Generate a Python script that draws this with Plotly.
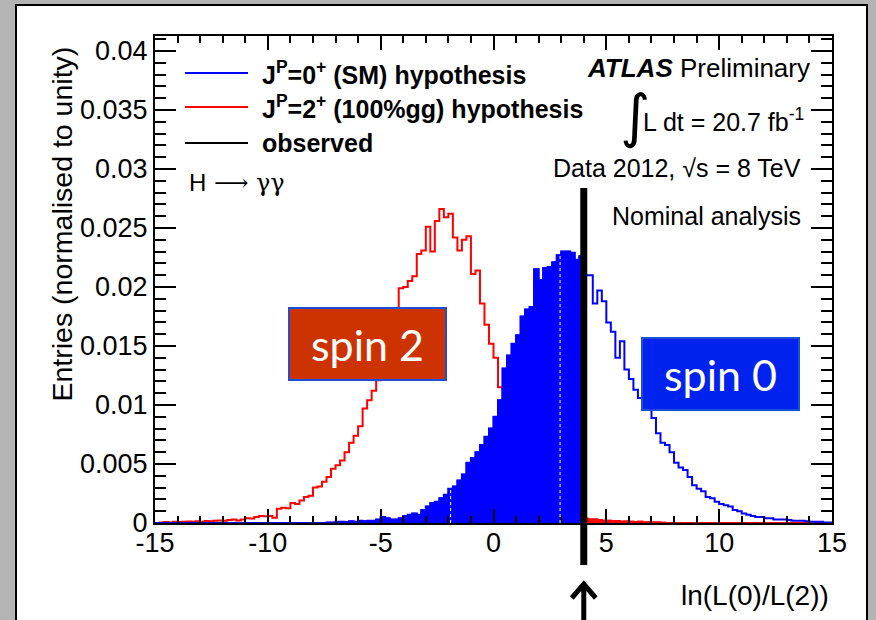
import numpy as np
import plotly.graph_objects as go

# ---------------------------------------------------------------- data
x_min, x_max, bin_width = -15.0, 15.0, 0.2

# J^P = 0+ (SM) pseudo-experiment distribution, normalised to unity
spin0_sm = [
    0, 0, 0, 0, 0, 0, 0, 0, 0, 0,                                          # -15.0 .. -13.2
    0, 0, 0, 0, 0, 0, 0, 0, 0, 0,                                          # -13.0 .. -11.2
    0, 0, 0, 0, 0, 0, 0, 0, 0, 0,                                          # -11.0 .. -9.2
    0, 0, 0, 0, 0, 0, 0, 0, 0.00005, 0.00005,                              # -9.0 .. -7.2
    0.0001, 0.0001, 0.00008, 0.00015, 0.0001, 0.0002, 0.00015, 0.0002, 0.0002, 0.0003,   # -7.0 .. -5.2
    0.0005, 0.0004, 0.0003, 0.0003, 0.0004, 0.0006, 0.0007, 0.0008, 0.0007, 0.0011,      # -5.0 .. -3.2
    0.0014, 0.0017, 0.0018, 0.0021, 0.0024, 0.0029, 0.0031, 0.0036, 0.0041, 0.0051,      # -3.0 .. -1.2
    0.0055, 0.0060, 0.0066, 0.0073, 0.0080, 0.0090, 0.0104, 0.0131, 0.0142, 0.0152,      # -1.0 .. 0.8
    0.0159, 0.0175, 0.0181, 0.0183, 0.0215, 0.0206, 0.0216, 0.0217, 0.0221, 0.0227,      # 1.0 .. 2.8
    0.0230, 0.0230, 0.0229, 0.0223, 0.0226, 0.0210, 0.0210, 0.0186, 0.0197, 0.0188,      # 3.0 .. 4.8
    0.0170, 0.0162, 0.0140, 0.0154, 0.0130, 0.0122, 0.0113, 0.0106, 0.0102, 0.0097,      # 5.0 .. 6.8
    0.0089, 0.0076, 0.0068, 0.0066, 0.0060, 0.0051, 0.0047, 0.0045, 0.0039, 0.0032,      # 7.0 .. 8.8
    0.0029, 0.0027, 0.0022, 0.0021, 0.0018, 0.0016, 0.0015, 0.0014, 0.0011, 0.0010,      # 9.0 .. 10.8
    0.0008, 0.0007, 0.0006, 0.0005, 0.0005, 0.0004, 0.0004, 0.0003, 0.0003, 0.0003,      # 11.0 .. 12.8
    0.00025, 0.0002, 0.0002, 0.0002, 0.00015, 0.0001, 0.0001, 0.0001, 0.00005, 0.00005,  # 13.0 .. 14.8
]

# J^P = 2+ (100% gg) pseudo-experiment distribution, normalised to unity
spin2_gg = [
    0.0, 0.00005, 0.00008, 0.00005, 0.0001, 0.00008, 0.0001, 0.00012, 0.0001, 0.00015,  # -15.0 .. -13.2
    0.0001, 0.00018, 0.00015, 0.0002, 0.00022, 0.0002, 0.00025, 0.0003, 0.00022, 0.0003, # -13.0 .. -11.2
    0.0004, 0.00038, 0.0005, 0.0006, 0.00058, 0.0006, 0.00045, 0.0012, 0.0013, 0.00125,  # -11.0 .. -9.2
    0.0017, 0.0016, 0.0019, 0.0022, 0.0023, 0.0030, 0.0031, 0.0035, 0.0039, 0.0046,      # -9.0 .. -7.2
    0.0049, 0.0053, 0.0060, 0.0068, 0.0074, 0.0082, 0.0097, 0.0104, 0.0112, 0.0121,      # -7.0 .. -5.2
    0.0130, 0.0141, 0.0152, 0.0168, 0.0199, 0.0200, 0.0205, 0.0209, 0.0228, 0.0231,      # -5.0 .. -3.2
    0.0251, 0.0230, 0.0256, 0.0266, 0.0259, 0.0262, 0.0242, 0.0231, 0.0240, 0.0243,      # -3.0 .. -1.2
    0.0211, 0.0214, 0.0186, 0.0168, 0.0152, 0.0140, 0.0115, 0.0105, 0.0092, 0.0080,      # -1.0 .. 0.8
    0.0068, 0.0058, 0.0048, 0.0040, 0.0032, 0.0026, 0.0021, 0.0016, 0.0013, 0.0010,      # 1.0 .. 2.8
    0.0008, 0.0006, 0.0005, 0.0004, 0.0004, 0.00035, 0.0003, 0.0003, 0.00025, 0.0002,    # 3.0 .. 4.8
    0.0002, 0.00015, 0.00018, 0.0001, 0.00012, 0.0001, 0.00008, 0.0001, 0.00005, 0.00006, # 5.0 .. 6.8
    0.00004, 0.00005, 0.00003, 0, 0, 0, 0, 0, 0, 0,                                      # 7.0 .. 8.8
    0, 0, 0, 0, 0, 0, 0, 0, 0, 0,                                                        # 9.0 .. 10.8
    0, 0, 0, 0, 0, 0, 0, 0, 0, 0,                                                        # 11.0 .. 12.8
    0, 0, 0, 0, 0, 0, 0, 0, 0, 0,                                                        # 13.0 .. 14.8
]

observed = 4.0                 # observed value of ln(L(0)/L(2))
median_marks = [-1.9, 2.95]    # dotted markers inside the SM distribution

x_tick_vals = [-15, -10, -5, 0, 5, 10, 15]
x_tick_text = ["-15", "-10", "-5", "0", "5", "10", "15"]
y_tick_vals = [0, 0.005, 0.01, 0.015, 0.02, 0.025, 0.03, 0.035, 0.04]
y_tick_text = ["0", "0.005", "0.01", "0.015", "0.02", "0.025", "0.03", "0.035", "0.04"]
y_max = 0.04127

# ---------------------------------------------------------------- geometry helpers
W, H = 876, 620
ML, MR, MT, MB = 155, 44, 36, 97
PW, PH = W - ML - MR, H - MT - MB


def px(p):
    return (p - ML) / PW


def py(q):
    return (MT + PH - q) / PH


n_bins = int(round((x_max - x_min) / bin_width))
edges = np.round(x_min + bin_width * np.arange(n_bins + 1), 6)
assert len(spin0_sm) == n_bins and len(spin2_gg) == n_bins


def step(vals, lo=None, hi=None):
    """Histogram outline as hv-step points, optionally restricted to [lo, hi]."""
    v = list(vals)
    xs = list(edges)
    ys = v + [v[-1]]
    if lo is None and hi is None:
        return xs, ys
    lo = x_min if lo is None else lo
    hi = x_max if hi is None else hi
    ox, oy = [], []
    for k in range(n_bins):
        a, b = edges[k], edges[k + 1]
        if b <= lo or a >= hi:
            continue
        ox.append(max(a, lo))
        oy.append(v[k])
    ox.append(hi)
    oy.append(oy[-1])
    return ox, oy


BLUE = "#0000ff"
RED = "#ff0000"
FONT = "Liberation Sans"

fig = go.Figure()

# spin-2 outline
rx, ry = step(spin2_gg)
fig.add_trace(go.Scatter(x=rx, y=ry, mode="lines", line=dict(color=RED, width=2, shape="hv"),
                         hoverinfo="skip", showlegend=False))
# SM filled below the observed value
bx, by = step(spin0_sm, hi=observed)
fig.add_trace(go.Scatter(x=bx, y=by, mode="lines", line=dict(color=BLUE, width=1.5, shape="hv"),
                         fill="tozeroy", fillcolor=BLUE, hoverinfo="skip", showlegend=False))
# spin-2 filled above the observed value
rfx, rfy = step(spin2_gg, lo=observed)
fig.add_trace(go.Scatter(x=rfx, y=rfy, mode="lines", line=dict(color=RED, width=2, shape="hv"),
                         fill="tozeroy", fillcolor=RED, hoverinfo="skip", showlegend=False))
# SM outline
sx, sy = step(spin0_sm)
fig.add_trace(go.Scatter(x=sx, y=sy, mode="lines", line=dict(color=BLUE, width=2, shape="hv"),
                         hoverinfo="skip", showlegend=False))

shapes = []
# page panel
shapes.append(dict(type="rect", xref="paper", yref="paper", layer="below",
                   x0=px(16), x1=px(867), y0=py(5), y1=py(640),
                   fillcolor="white", line=dict(color="black", width=2)))

# dotted markers inside the filled SM histogram
for m in median_marks:
    k = int((m - x_min) // bin_width)
    shapes.append(dict(type="line", xref="x", yref="y", x0=m, x1=m, y0=0, y1=spin0_sm[k],
                       line=dict(color="white", width=1, dash="dot"), layer="above"))

# observed value
shapes.append(dict(type="line", xref="x", yref="paper", x0=observed, x1=observed,
                   y0=py(565), y1=py(188), line=dict(color="black", width=7)))
# arrow under the axis pointing to the observed value
dx = 12 / PW * (x_max - x_min)
shapes.append(dict(type="path", xref="x", yref="paper",
                   path=(f"M {observed - dx},{py(598)} L {observed},{py(584)} L {observed + dx},{py(598)} "
                         f"M {observed},{py(585)} L {observed},{py(630)}"),
                   line=dict(color="black", width=5)))

# legend
legend_rows = [
    (73, BLUE, "<b>J<sup>P</sup>=0<sup>+</sup> (SM) hypothesis</b>"),
    (107, RED, "<b>J<sup>P</sup>=2<sup>+</sup> (100%gg) hypothesis</b>"),
    (143, "black", "<b>observed</b>"),
]
annotations = []
for yy, col, txt in legend_rows:
    shapes.append(dict(type="line", xref="paper", yref="paper", x0=px(185), x1=px(248),
                       y0=py(yy), y1=py(yy), line=dict(color=col, width=2)))
    annotations.append(dict(xref="paper", yref="paper", x=px(260), y=py(yy), xanchor="left",
                            yanchor="middle", showarrow=False, text=txt,
                            font=dict(family=FONT, size=25, color="black")))

# labelled boxes
boxes = [
    (289, 446, 308, 380, "#cc3300", "spin 2"),
    (642, 799, 338, 410, "#0022ee", "spin 0"),
]
for x0, x1, y0, y1, col, txt in boxes:
    shapes.append(dict(type="rect", xref="paper", yref="paper", x0=px(x0), x1=px(x1),
                       y0=py(y1), y1=py(y0), fillcolor=col, line=dict(color="#1a50d8", width=2)))
    annotations.append(dict(xref="paper", yref="paper", x=px((x0 + x1) / 2), y=py((y0 + y1) / 2),
                            showarrow=False, text=txt, xanchor="center", yanchor="middle",
                            font=dict(family="Lato", size=43, color="white")))

annotations += [
    dict(xref="paper", yref="paper", x=px(187), y=py(183), xanchor="left", yanchor="middle",
         showarrow=False,
         text="H<span style='font-family:DejaVu Serif'> \u27f6 γγ</span>",
         font=dict(family=FONT, size=24, color="black")),
    dict(xref="paper", yref="paper", x=px(812), y=py(68), xanchor="right", yanchor="middle",
         showarrow=False, text="<b><i>ATLAS</i></b> Preliminary",
         font=dict(family=FONT, size=26, color="black")),
    dict(xref="paper", yref="paper", x=px(635), y=py(116), xanchor="center", yanchor="middle",
         showarrow=False, text="∫", font=dict(family="DejaVu Sans", size=58, color="black")),
    dict(xref="paper", yref="paper", x=px(806), y=py(120), xanchor="right", yanchor="middle",
         showarrow=False, text="L dt = 20.7 fb<sup>-1</sup>",
         font=dict(family=FONT, size=25, color="black")),
    dict(xref="paper", yref="paper", x=px(803), y=py(168), xanchor="right", yanchor="middle",
         showarrow=False, text="Data 2012, √s = 8 TeV", font=dict(family=FONT, size=25, color="black")),
    dict(xref="paper", yref="paper", x=px(803), y=py(216), xanchor="right", yanchor="middle",
         showarrow=False, text="Nominal analysis", font=dict(family=FONT, size=25, color="black")),
    # axis titles
    dict(xref="paper", yref="paper", x=px(831), y=py(595), xanchor="right", yanchor="middle",
         showarrow=False, text="ln(L(0)/L(2))", font=dict(family=FONT, size=28, color="black")),
    dict(xref="paper", yref="paper", x=px(61), y=py(45), xanchor="center", yanchor="top",
         showarrow=False, textangle=-90, text="Entries (normalised to unity)",
         font=dict(family=FONT, size=28.5, color="black")),
]

axis_common = dict(showline=True, linecolor="black", linewidth=2, mirror="ticks",
                   ticks="inside", tickcolor="black", tickwidth=1.5,
                   showgrid=False, zeroline=False, tickmode="array",
                   tickfont=dict(family=FONT, size=27, color="black"))

fig.update_xaxes(range=[x_min, x_max], tickvals=x_tick_vals, ticktext=x_tick_text, ticklen=14,
                 ticklabelstandoff=-5,
                 minor=dict(ticks="inside", dtick=1, tick0=0, ticklen=7, tickcolor="black",
                            tickwidth=1.5, showgrid=False),
                 **axis_common)
fig.update_yaxes(range=[0, y_max], tickvals=y_tick_vals, ticktext=y_tick_text, ticklen=21,
                 minor=dict(ticks="inside", dtick=0.001, tick0=0, ticklen=11, tickcolor="black",
                            tickwidth=1.5, showgrid=False),
                 **axis_common)

fig.update_layout(
    width=W, height=H, autosize=False,
    margin=dict(l=ML, r=MR, t=MT, b=MB, pad=0),
    paper_bgcolor="#b4b4b4", plot_bgcolor="rgba(0,0,0,0)",
    shapes=shapes, annotations=annotations, showlegend=False,
    font=dict(family=FONT, color="black"),
)

fig.write_html("out.html")
